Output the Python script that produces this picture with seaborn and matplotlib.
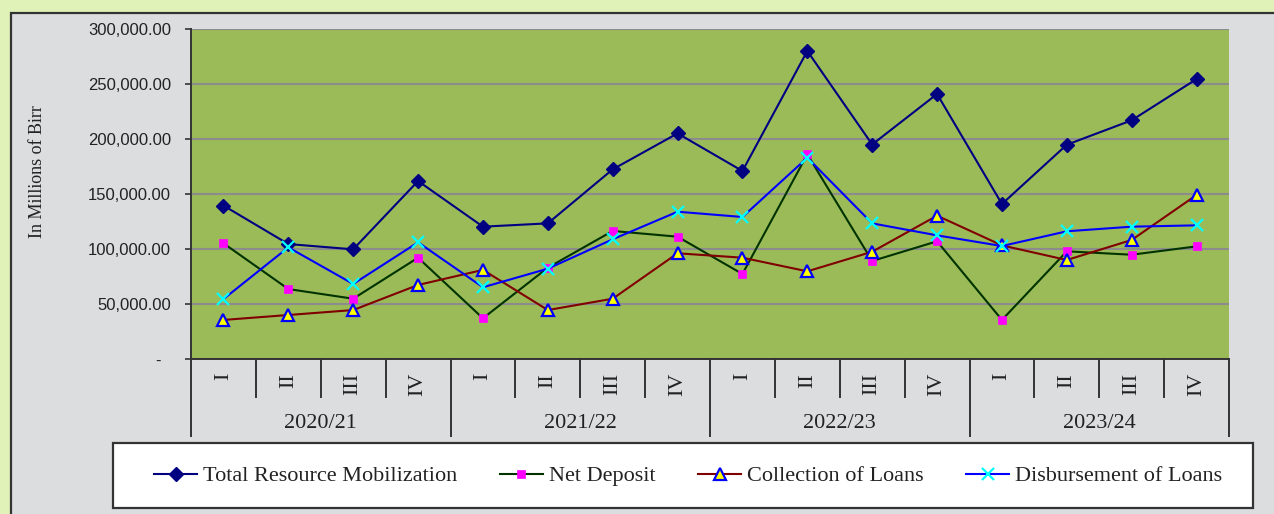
import matplotlib
matplotlib.use("Agg")
import matplotlib.pyplot as plt
import seaborn as sns
import numpy as np
import pandas as pd
from matplotlib.patches import Rectangle
from matplotlib.lines import Line2D
from matplotlib.transforms import blended_transform_factory
from matplotlib.ticker import FuncFormatter, MultipleLocator

# ---------------- data ----------------
quarters = ["I", "II", "III", "IV"] * 4
years = ["2020/21", "2021/22", "2022/23", "2023/24"]
total_resource = [139500, 104500, 99700, 161800, 120300, 123300, 172400, 205100,
                  170900, 280000, 195000, 240900, 140900, 194800, 217000, 254500]
net_deposit = [105200, 63600, 54800, 92100, 37000, 83000, 116400, 111200,
               77300, 186000, 89100, 107000, 35500, 97900, 94800, 102400]
collection = [35500, 40000, 44500, 67300, 81000, 44500, 54800, 96100,
              92100, 79700, 97500, 130300, 103300, 90000, 108200, 149100]
disbursement = [54500, 101500, 68200, 106100, 65200, 82100, 108800, 133900,
                129100, 183000, 123300, 112400, 102700, 116100, 120300, 121500]
series_names = ["Total Resource Mobilization", "Net Deposit",
                "Collection of Loans", "Disbursement of Loans"]

W, H = 1274, 514
SERIF = ["Liberation Serif", "DejaVu Serif"]
SANS = ["Liberation Sans", "DejaVu Sans"]

fig = plt.figure(figsize=(W / 100, H / 100), dpi=100)
fig.patch.set_facecolor("#e0f2b8")

def fx(px):
    return px / W

def fy(py):
    return 1 - py / H

# gray panel
fig.add_artist(Rectangle((fx(11), -0.05), 1.1, fy(13) + 0.05, transform=fig.transFigure,
                         facecolor="#dcdddf", edgecolor="#333333", lw=1.6, zorder=-10))

ax = fig.add_axes([fx(191), fy(359), (1229 - 191) / W, (359 - 29) / H])
ax.set_facecolor("#9bbb59")

x = np.arange(len(quarters))
styles = [
    dict(color="#000080", marker="D", markersize=7, markerfacecolor="#000080",
         markeredgecolor="#000080", markeredgewidth=1.0),
    dict(color="#003300", marker="s", markersize=6.0, markerfacecolor="#ff00ff",
         markeredgecolor="#ff00ff", markeredgewidth=0.5),
    dict(color="#800000", marker="^", markersize=8.5, markerfacecolor="#ffff00",
         markeredgecolor="#0000ff", markeredgewidth=1.6),
    dict(color="#0000ff", marker="x", markersize=8.5, markerfacecolor="#00ffff",
         markeredgecolor="#00ffff", markeredgewidth=1.6),
]
for name, vals, st in zip(series_names, [total_resource, net_deposit, collection, disbursement], styles):
    df = pd.DataFrame({"pos": x, "value": vals})
    sns.lineplot(data=df, x="pos", y="value", ax=ax, label=name, lw=1.5,
                 errorbar=None, sort=False, zorder=3, clip_on=False, **st)

ax.set_xlim(-0.5, len(quarters) - 0.5)
ax.set_ylim(0, 300000)
ax.yaxis.set_major_locator(MultipleLocator(50000))
ax.yaxis.set_major_formatter(FuncFormatter(lambda v, p: f"{v:,.2f}" if v > 0 else "-  "))
ax.grid(axis="y", color="#8c8c8c", lw=1.5, zorder=1)
ax.set_axisbelow(True)
ax.set_xticks([])
ax.set_xlabel("")
ax.set_ylabel("")
for s in ["top", "right"]:
    ax.spines[s].set_visible(False)
for s in ["left", "bottom"]:
    ax.spines[s].set_color("#333333")
    ax.spines[s].set_linewidth(1.4)
ax.tick_params(axis="y", length=4.3, width=1.2, color="#333333", pad=10,
               labelsize=12, labelcolor="#222222")
for lab in ax.get_yticklabels():
    lab.set_fontfamily(SANS)

fig.text(fx(37), fy(172), "In Millions of Birr", rotation=90, ha="center", va="center",
         fontsize=13, family=SERIF, color="#222222")

# multi-level category axis
trans = blended_transform_factory(ax.transData, fig.transFigure)
for i in range(len(quarters) + 1):
    bx = i - 0.5
    bottom = 436 if i % 4 == 0 else 397
    fig.add_artist(Line2D([bx, bx], [fy(359), fy(bottom)], transform=trans,
                          color="#333333", lw=1.4))
for i, q in enumerate(quarters):
    fig.text(i, fy(373), q, transform=trans, rotation=90, ha="center", va="top",
             fontsize=16, family=SERIF, color="#222222")
for j, yr in enumerate(years):
    fig.text(j * 4 + 1.5, fy(424), yr, transform=trans, ha="center", va="center",
             fontsize=16, family=SERIF, color="#222222")

# legend
handles, labels = ax.get_legend_handles_labels()
ax.get_legend().remove() if ax.get_legend() else None
fig.add_artist(Rectangle((fx(113), fy(508)), (1253 - 113) / W, (508 - 443) / H,
                         transform=fig.transFigure, facecolor="white",
                         edgecolor="#333333", lw=1.6, zorder=1))
leg = fig.legend(handles, labels, loc="center", bbox_to_anchor=(fx(688), fy(476)),
                 ncol=4, frameon=False, prop={"family": SERIF, "size": 16},
                 handlelength=1.95, handletextpad=0.25, columnspacing=1.92,
                 borderaxespad=0)
leg.set_zorder(2)
for t in leg.get_texts():
    t.set_color("#222222")

fig.savefig("out.png", dpi=100, facecolor=fig.get_facecolor())
